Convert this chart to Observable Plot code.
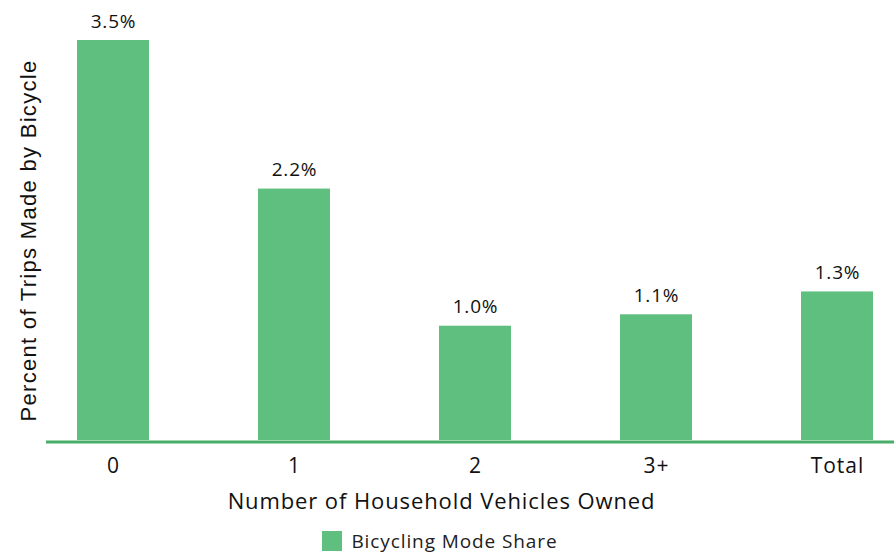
<!DOCTYPE html>
<html>
<head>
<meta charset="utf-8">
<script src="https://cdn.jsdelivr.net/npm/d3@7"></script>
<script src="https://cdn.jsdelivr.net/npm/@observablehq/plot@0.6"></script>
<style>
  body { margin: 0; background: #fff; font-family: "Open Sans", sans-serif; }
  #legend { display: flex; justify-content: center; align-items: center; height: 42px; width: 894px; margin-left: -7px; font-size: 19px; letter-spacing: 0.9px; color: #222; }
  #legend .sw { width: 20px; height: 20px; background: #5fbf7f; margin-right: 9px; }
</style>
</head>
<body>
<div id="chart"></div>
<div id="legend"><div class="sw"></div><span>Bicycling Mode Share</span></div>
<script>
const categories = ["0", "1", "2", "3+", "Total"];
const shares = [3.5, 2.2, 1.0, 1.1, 1.3];
const labels = ["3.5%", "2.2%", "1.0%", "1.1%", "1.3%"];
const seriesName = "Bicycling Mode Share";
const xTitle = "Number of Household Vehicles Owned";
const yTitle = "Percent of Trips Made by Bicycle";

const data = categories.map((c, i) => ({category: c, value: shares[i], label: labels[i]}));

const chart = Plot.plot({
  width: 894,
  height: 520,
  marginLeft: 46,
  marginRight: 0,
  marginTop: 40,
  marginBottom: 80,
  style: {fontFamily: "'Open Sans', sans-serif", fontSize: "19px", color: "#111", background: "#fff"},
  x: {domain: categories, range: [76, 874], paddingInner: 0.6, paddingOuter: 0, axis: null},
  y: {domain: [0, 3.5], axis: null},
  marks: [
    Plot.barY(data, {x: "category", y: "value", fill: "#5fbf7f"}),
    Plot.ruleY([0], {stroke: "#48ad66", strokeWidth: 3, dy: 1.5}),
    Plot.axisX({tickSize: 0, tickPadding: 18, fontSize: 21, fill: "#111", label: null}),
    Plot.text(data, {x: "category", y: "value", text: "label", dy: -19, lineAnchor: "middle", fontSize: 19, fill: "#111"}),
    Plot.text([xTitle], {frameAnchor: "bottom", dy: 61, dx: -29, lineAnchor: "middle", textAnchor: "middle", fontSize: 22, fill: "#111"}),
    Plot.text([yTitle], {frameAnchor: "left", dx: -18, rotate: -90, lineAnchor: "middle", textAnchor: "middle", fontSize: 22, fontFamily: "'Liberation Sans', Arial, sans-serif", fill: "#111"})
  ]
});
document.getElementById("chart").appendChild(chart);

const svg = d3.select(chart);
svg.selectAll("text").each(function() {
  const t = d3.select(this).text();
  let ls = null;
  if (t === xTitle) ls = "0.9px";
  else if (t === yTitle) ls = "1.3px";
  else if (labels.includes(t)) ls = "0.8px";
  else if (categories.includes(t)) ls = "1px";
  if (ls) d3.select(this).style("letter-spacing", ls);
});
</script>
</body>
</html>
